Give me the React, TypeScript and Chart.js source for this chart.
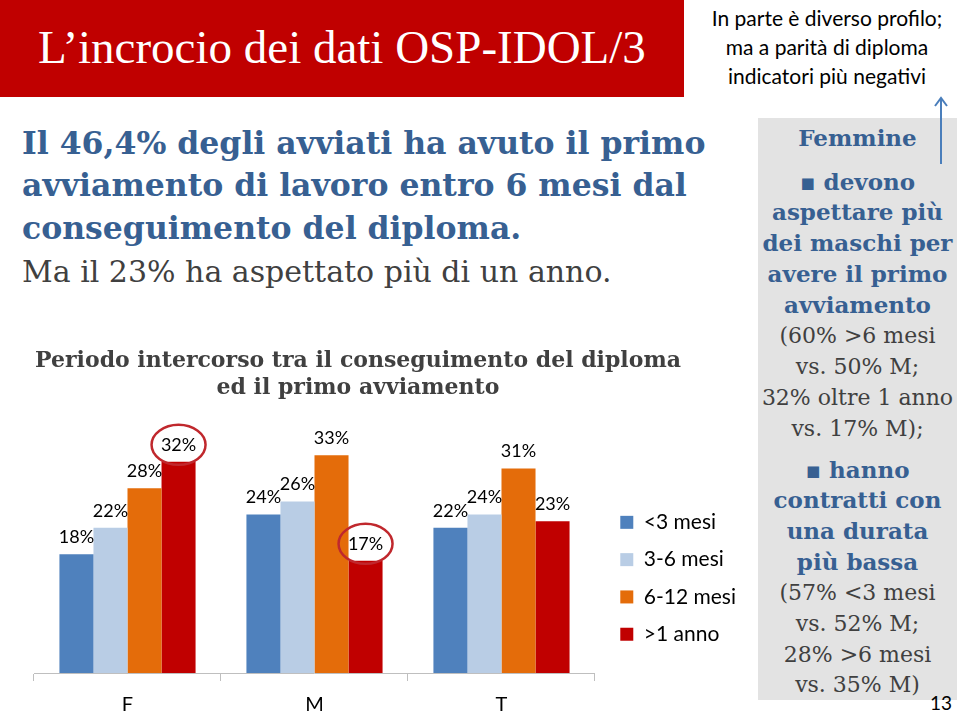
import React, { useEffect, useRef } from "react";
import { Chart, registerables } from "chart.js";

Chart.register(...registerables);

// ---- data ----
const categories = ["F", "M", "T"];
const seriesNames = ["<3 mesi", "3-6 mesi", "6-12 mesi", ">1 anno"];
const lessThan3Months = [18, 24, 22];
const from3To6Months = [22, 26, 24];
const from6To12Months = [28, 33, 31];
const moreThan1Year = [32, 17, 23];
const seriesColors = ["#4f81bd", "#b9cde5", "#e46c0a", "#c00000"];
// bars whose value label is circled: [series index, category index]
const circledLabels = [
  [3, 0],
  [3, 1],
];
const yMax = 35;
const chartTitle = ["Periodo intercorso tra il conseguimento del diploma", "ed il primo avviamento"];

const BLUE = "#376092";
const GRAY = "#404040";

const valueLabels = {
  id: "valueLabels",
  afterDatasetsDraw(chart: any) {
    const ctx = chart.ctx;
    ctx.save();
    ctx.font = "18px Lato";
    ctx.fillStyle = "#000";
    ctx.textAlign = "center";
    ctx.textBaseline = "middle";
    chart.data.datasets.forEach((ds: any, di: number) => {
      const meta = chart.getDatasetMeta(di);
      meta.data.forEach((bar: any, i: number) => {
        const x = bar.x;
        const y = bar.y - 17;
        ctx.fillText(ds.data[i] + "%", x, y);
        if (circledLabels.some(([s, c]) => s === di && c === i)) {
          ctx.strokeStyle = "#c0282d";
          ctx.lineWidth = 2.5;
          ctx.beginPath();
          ctx.ellipse(x, y, 27, 20, 0, 0, Math.PI * 2);
          ctx.stroke();
        }
      });
    });
    ctx.restore();
  },
};

function BarChart() {
  const ref = useRef<HTMLCanvasElement>(null);
  useEffect(() => {
    if (!ref.current) return;
    const values = [lessThan3Months, from3To6Months, from6To12Months, moreThan1Year];
    const chart = new Chart(ref.current, {
      type: "bar",
      data: {
        labels: categories,
        datasets: seriesNames.map((name, i) => ({
          label: name,
          data: values[i],
          backgroundColor: seriesColors[i],
          borderWidth: 0,
          barPercentage: 1,
          categoryPercentage: 0.728,
        })),
      },
      options: {
        animation: false,
        responsive: false,
        maintainAspectRatio: false,
        layout: { padding: 0 },
        plugins: {
          title: {
            display: true,
            text: chartTitle,
            color: GRAY,
            font: { family: "DejaVu Serif", size: 22, weight: "bold", lineHeight: 27 / 22 },
            padding: { top: 0, bottom: 40 },
          },
          legend: {
            display: true,
            position: "right",
            fullSize: false,
            align: "center",
            maxWidth: 220,
            title: { display: true, text: " ", padding: 0, font: { size: 33, lineHeight: 1.26 } },
            labels: {
              boxWidth: 13,
              boxHeight: 13,
              padding: 16.3,
              color: "#000",
              font: { family: "Lato", size: 21 },
            },
          },
          tooltip: { enabled: false },
        },
        scales: {
          x: {
            grid: {
              display: true,
              drawOnChartArea: false,
              drawTicks: true,
              tickLength: 8,
              color: "#bfbfbf",
              offset: true,
            },
            border: { display: true, color: "#bfbfbf" },
            ticks: { color: "#000", font: { family: "Lato", size: 20 }, padding: 12 },
          },
          y: {
            position: "left",
            min: 0,
            max: yMax,
            grid: { display: false },
            border: { display: false },
            ticks: { display: false },
            afterFit: (s: any) => {
              s.width = 64;
            },
          },
          gap: {
            type: "linear",
            position: "right",
            grid: { display: false },
            border: { display: false },
            ticks: { display: false },
            afterFit: (s: any) => {
              s.width = 9;
            },
          },
        },
      },
      plugins: [valueLabels],
    } as any);
    return () => chart.destroy();
  }, []);
  return (
    <canvas
      ref={ref}
      width={776}
      height={381}
      style={{ position: "absolute", left: -30, top: 348, width: 776, height: 381 }}
    />
  );
}

const serif = '"DejaVu Serif", serif';

type Line = { text: string; bold?: boolean };

const femmineLines1: Line[] = [
  { text: "▪ devono", bold: true },
  { text: "aspettare più", bold: true },
  { text: "dei maschi per", bold: true },
  { text: "avere il primo", bold: true },
  { text: "avviamento", bold: true },
  { text: "(60% >6 mesi" },
  { text: "vs. 50% M;" },
  { text: "32% oltre 1 anno" },
  { text: "vs. 17% M);" },
];
const femmineLines2: Line[] = [
  { text: "▪ hanno", bold: true },
  { text: "contratti con", bold: true },
  { text: "una durata", bold: true },
  { text: "più bassa", bold: true },
  { text: "(57% <3 mesi" },
  { text: "vs. 52% M;" },
  { text: "28% >6 mesi" },
  { text: "vs. 35% M)" },
];

function BoxLines({ lines, top, lh }: { lines: Line[]; top: number; lh: number }) {
  return (
    <div style={{ position: "absolute", left: 754, top, width: 207, textAlign: "center", whiteSpace: "nowrap" }}>
      {lines.map((l, i) => (
        <div
          key={i}
          style={{
            position: "relative",
            top: l.bold ? 1 : 3,
            height: lh,
            lineHeight: `${lh}px`,
            font: l.bold ? `bold 23px ${serif}` : `22px ${serif}`,
            color: l.bold ? BLUE : GRAY,
          }}
        >
          {l.text}
        </div>
      ))}
    </div>
  );
}

export default function App() {
  return (
    <div
      style={{
        position: "absolute",
        left: 0,
        top: 0,
        width: 960,
        height: 712,
        overflow: "hidden",
        background: "#fff",
      }}
    >
      {/* header */}
      <div style={{ position: "absolute", left: 0, top: 0, width: 684, height: 97, background: "#c00000" }} />
      <div
        style={{
          position: "absolute",
          left: 38,
          top: 17,
          whiteSpace: "nowrap",
          color: "#fff",
          font: '47px "Liberation Serif", serif',
          lineHeight: "60px",
        }}
      >
        L’incrocio dei dati OSP-IDOL/3
      </div>
      <div
        style={{
          position: "absolute",
          left: 697,
          top: 2.5,
          width: 260,
          textAlign: "center",
          color: "#000",
          font: '21px Lato, sans-serif',
          lineHeight: "29px",
          whiteSpace: "nowrap",
        }}
      >
        In parte è diverso profilo;
        <br />
        ma a parità di diploma
        <br />
        indicatori più negativi
      </div>

      {/* main statement */}
      <div
        style={{
          position: "absolute",
          left: 22,
          top: 121.7,
          whiteSpace: "nowrap",
          font: `bold 31.5px ${serif}`,
          lineHeight: "42.7px",
          color: BLUE,
        }}
      >
        Il 46,4% degli avviati ha avuto il primo
        <br />
        avviamento di lavoro entro 6 mesi dal
        <br />
        conseguimento del diploma.
        <br />
        <span style={{ fontWeight: "normal", fontSize: 30, color: GRAY }}>Ma il 23% ha aspettato più di un anno.</span>
      </div>

      <BarChart />

      {/* right box */}
      <div style={{ position: "absolute", left: 758, top: 118, width: 199, height: 582, background: "#e3e3e3" }} />
      <BoxLines lines={[{ text: "Femmine", bold: true }]} top={122.6} lh={30.8} />
      <BoxLines lines={femmineLines1} top={166.6} lh={30.75} />
      <BoxLines lines={femmineLines2} top={454.6} lh={30.7} />

      {/* arrow */}
      <svg style={{ position: "absolute", left: 930, top: 94, width: 22, height: 74 }} viewBox="0 0 22 74">
        <path d="M11 4 L11 70 M5 12 L11 4 L17 12" stroke="#4a7ebb" strokeWidth={2} fill="none" />
      </svg>

      <div
        style={{
          position: "absolute",
          left: 930,
          top: 692,
          width: 30,
          textAlign: "left",
          font: "19px Lato, sans-serif",
          lineHeight: "22px",
          color: "#000",
        }}
      >
        13
      </div>
    </div>
  );
}
